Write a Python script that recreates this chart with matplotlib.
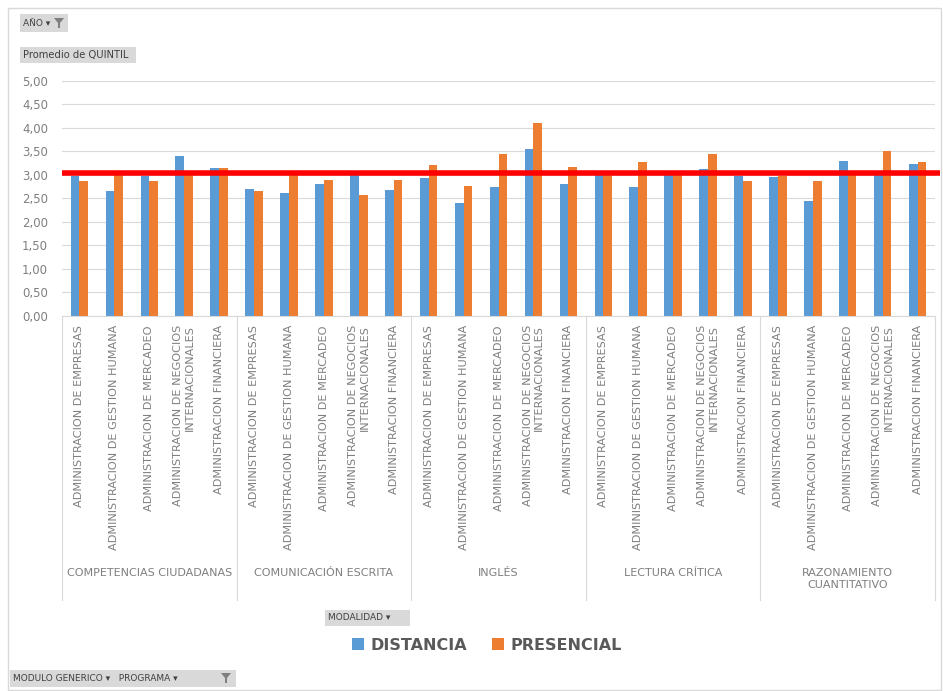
import matplotlib.pyplot as plt
import numpy as np
from matplotlib.patches import Rectangle, Polygon

# pivot data: average QUINTIL per generic module and programme
modulos = ["COMPETENCIAS CIUDADANAS", "COMUNICACIÓN ESCRITA", "INGLÉS",
           "LECTURA CRÍTICA", "RAZONAMIENTO\nCUANTITATIVO"]
programas = ["ADMINISTRACION DE EMPRESAS",
             "ADMINISTRACION DE GESTION HUMANA",
             "ADMINISTRACION DE MERCADEO",
             "ADMINISTRACION DE NEGOCIOS\nINTERNACIONALES",
             "ADMINISTRACION FINANCIERA"]

distancia = [2.98, 2.65, 2.97, 3.40, 3.14,
             2.70, 2.62, 2.80, 3.02, 2.67,
             2.92, 2.40, 2.73, 3.54, 2.81,
             3.00, 2.73, 3.00, 3.12, 2.98,
             2.96, 2.44, 3.29, 3.00, 3.23]
presencial = [2.87, 3.00, 2.87, 3.00, 3.14,
              2.65, 3.00, 2.88, 2.57, 2.89,
              3.21, 2.76, 3.44, 4.11, 3.17,
              2.99, 3.26, 3.00, 3.44, 2.87,
              2.98, 2.87, 2.99, 3.50, 3.28]
referencia = 3.03

yticks = np.arange(0, 5.01, 0.5)

BLUE = "#5B9BD5"
ORANGE = "#ED7D31"
GREY_TXT = "#7F7F7F"

W, H = 943, 691
fig = plt.figure(figsize=(W / 100, H / 100), dpi=100)
fig.patch.set_facecolor("white")

def fx(px):
    return px / W

def fy(py):
    return 1 - py / H

# chart area border
fig.patches.append(Rectangle((fx(8), fy(690)), fx(933), fy(8) - fy(690),
                             transform=fig.transFigure, fill=False,
                             ec="#D9D9D9", lw=1))

ax_left, ax_right, ax_top, ax_bot = 62, 935, 80.7, 315.7
ax = fig.add_axes([fx(ax_left), fy(ax_bot), fx(ax_right - ax_left),
                   fy(ax_top) - fy(ax_bot)])

n = len(distancia)
x = np.arange(n)
w = 0.25
b1 = ax.bar(x - w / 2, distancia, w, color=BLUE, zorder=2, label="DISTANCIA")
b2 = ax.bar(x + w / 2, presencial, w, color=ORANGE, zorder=2, label="PRESENCIAL")

# reference line
ax.plot([-0.5, n - 0.35], [referencia, referencia], color="#FF0000",
        lw=4, zorder=3, clip_on=False, solid_capstyle="butt")

ax.set_xlim(-0.5, n - 0.5)
ax.set_ylim(0, 5)
ax.set_yticks(yticks)
ax.set_yticklabels([f"{v:.2f}".replace(".", ",") for v in yticks],
                   fontsize=8.5, color=GREY_TXT)
ax.tick_params(axis="y", length=0, pad=10)
ax.set_xticks([])
ax.grid(axis="y", color="#D9D9D9", lw=0.8, zorder=0)
for s in ["top", "right", "left"]:
    ax.spines[s].set_visible(False)
ax.spines["bottom"].set_color("#D9D9D9")

# two-level category axis
tr = ax.get_xaxis_transform()
px_h = ax_bot - ax_top

def ay(py):
    return (ax_bot - py) / px_h

for i in range(n):
    ax.text(x[i], ay(325), programas[i % len(programas)], transform=tr,
            rotation=90, rotation_mode="anchor", ha="right", va="center",
            fontsize=8.1, color=GREY_TXT, linespacing=1.2, clip_on=False)

for g, mod in enumerate(modulos):
    start = g * len(programas) - 0.5
    ax.plot([start, start], [0, ay(600)], transform=tr, color="#D9D9D9",
            lw=0.8, clip_on=False)
    ax.text(start + len(programas) / 2, ay(568), mod, transform=tr,
            ha="center", va="top", fontsize=8, color=GREY_TXT,
            linespacing=1.25, clip_on=False)
ax.plot([n - 0.5, n - 0.5], [0, ay(600)], transform=tr, color="#D9D9D9",
        lw=0.8, clip_on=False)

# legend
fig.legend(handles=[b1, b2], labels=["DISTANCIA", "PRESENCIAL"],
           loc="center", bbox_to_anchor=(fx(487), fy(645)), ncol=2,
           frameon=False, handlelength=0.75, handleheight=0.75,
           handletextpad=0.4, columnspacing=1.6,
           prop={"size": 11.5, "weight": "bold"}, labelcolor="#595959")

# pivot field buttons
def button(x0, x1, y0, y1, txt, size=6.5):
    fig.patches.append(Rectangle((fx(x0), fy(y1)), fx(x1 - x0), fy(y0) - fy(y1),
                                 transform=fig.transFigure, fc="#D9D9D9",
                                 ec="none"))
    fig.text(fx(x0 + 3), fy((y0 + y1) / 2), txt, fontsize=size,
             color="#404040", ha="left", va="center")

def funnel(px, py):
    pts = [(px - 5, py - 5), (px + 5, py - 5), (px + 1, py), (px + 1, py + 5),
           (px - 1, py + 5), (px - 1, py)]
    fig.patches.append(Polygon([(fx(a), fy(b)) for a, b in pts],
                               closed=True, transform=fig.transFigure,
                               fc="#7F7F7F", ec="none", zorder=5))

button(20, 68, 14, 32, "AÑO ▾")
funnel(59, 23)
button(20, 136, 47, 63, "Promedio de QUINTIL", size=7.2)
button(325, 410, 610, 626, "MODALIDAD ▾")
button(10, 236, 670, 687, "MODULO GENERICO ▾   PROGRAMA ▾")
funnel(226, 678)

fig.savefig("out.png", dpi=100)
